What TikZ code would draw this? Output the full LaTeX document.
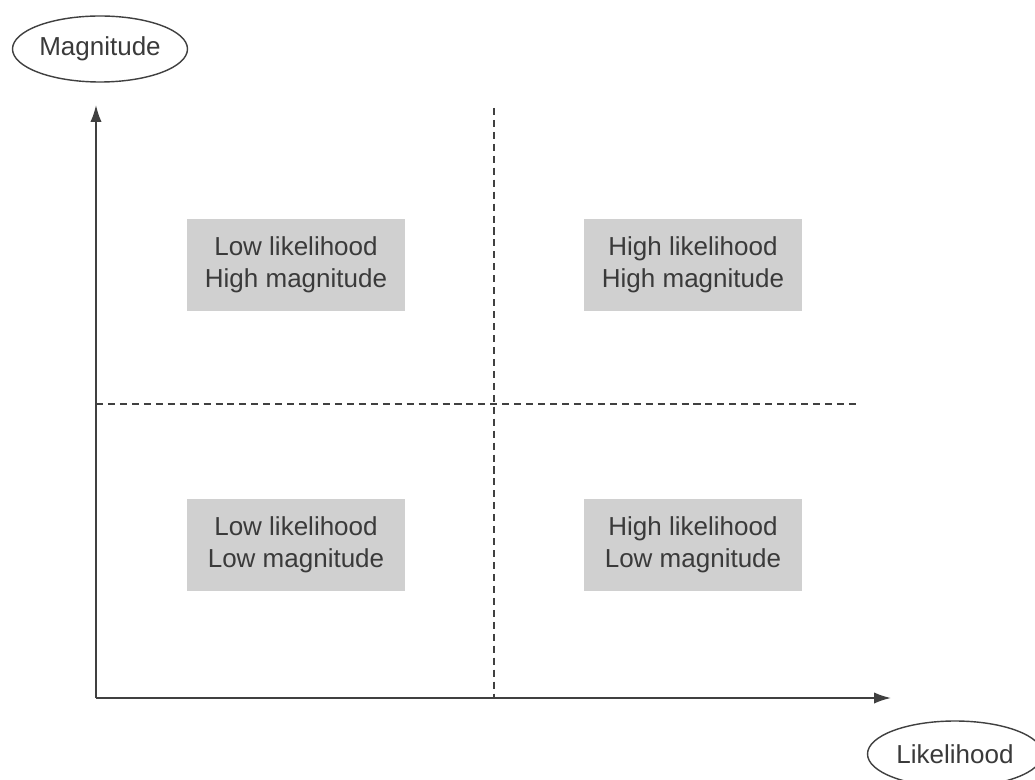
\documentclass[tikz,border=0pt]{standalone}
\usepackage{fontspec}
\setmainfont{Liberation Sans}
\usetikzlibrary{shapes.geometric,arrows.meta}
\definecolor{linegray}{RGB}{64,64,64}
\definecolor{textgray}{RGB}{58,58,58}
\definecolor{boxgray}{RGB}{208,208,208}
\begin{document}
\begin{tikzpicture}[
	axis/.style={-{Latex[length=12pt,width=8pt]}, line width=1.3pt, draw=linegray},
	divider/.style={line width=1pt, draw=linegray, dash pattern=on 5pt off 3.5pt},
	quadrant/.style={fill=boxgray, text=textgray, align=center, minimum width=5.45cm, minimum height=2.3cm, inner sep=0pt, font=\fontsize{18.5}{23}\selectfont},
	axislabel/.style={ellipse, draw=linegray, line width=1pt, text=textgray, minimum width=4.375cm, minimum height=1.65cm, inner sep=0pt, font=\fontsize{18.5}{23}\selectfont}]

					\clip (0,0) rectangle (25.875,19.475);
					\fill[white] (0,0) rectangle (25.875,19.475);

					\coordinate (origin) at (2.4,2.025);
					\coordinate (ytop) at (2.4,16.85);
					\coordinate (xend) at (22.275,2.025);
					\coordinate (vtop) at (12.35,16.775);
					\coordinate (vbot) at (12.35,2.025);
					\coordinate (hleft) at (2.4,9.375);
					\coordinate (hright) at (21.45,9.375);

					\draw[divider] (vtop) -- (vbot);
					\draw[divider] (hleft) -- (hright);
					\draw[axis] (origin) -- (ytop);
					\draw[axis] (origin) -- (xend);

					\node[quadrant] (lowhigh) at (7.4,12.85) {Low likelihood\\High magnitude};
					\node[quadrant] (highhigh) at (17.325,12.85) {High likelihood\\High magnitude};
					\node[quadrant] (lowlow) at (7.4,5.85) {Low likelihood\\Low magnitude};
					\node[quadrant] (highlow) at (17.325,5.85) {High likelihood\\Low magnitude};

					\node[axislabel] (magnitude) at (2.5,18.25) {Magnitude};
					\node[axislabel] (likelihood) at (23.875,0.625) {Likelihood};

					\end{tikzpicture}
\end{document}
